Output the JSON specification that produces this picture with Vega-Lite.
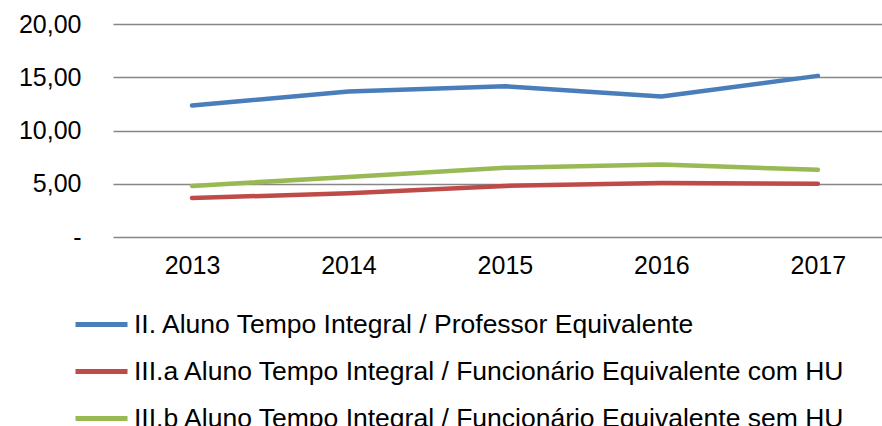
{
  "$schema": "https://vega.github.io/schema/vega-lite/v6.json",
  "autosize": "none",
  "padding": {"left": 113, "top": 24, "right": 0, "bottom": 189},
  "width": 769,
  "height": 213,
  "background": "white",
  "config": {
    "view": {"stroke": null},
    "font": "Liberation Sans",
    "axis": {"labelFont": "Liberation Sans", "labelColor": "#000000"},
    "legend": {"labelFont": "Liberation Sans"}
  },
  "data": {
    "values": [
      {"ano": 2013, "serie": "II. Aluno Tempo Integral / Professor Equivalente", "valor": 12.34},
      {"ano": 2014, "serie": "II. Aluno Tempo Integral / Professor Equivalente", "valor": 13.66},
      {"ano": 2015, "serie": "II. Aluno Tempo Integral / Professor Equivalente", "valor": 14.16},
      {"ano": 2016, "serie": "II. Aluno Tempo Integral / Professor Equivalente", "valor": 13.19},
      {"ano": 2017, "serie": "II. Aluno Tempo Integral / Professor Equivalente", "valor": 15.13},
      {"ano": 2013, "serie": "III.a Aluno Tempo Integral / Funcionário Equivalente com HU", "valor": 3.66},
      {"ano": 2014, "serie": "III.a Aluno Tempo Integral / Funcionário Equivalente com HU", "valor": 4.1},
      {"ano": 2015, "serie": "III.a Aluno Tempo Integral / Funcionário Equivalente com HU", "valor": 4.8},
      {"ano": 2016, "serie": "III.a Aluno Tempo Integral / Funcionário Equivalente com HU", "valor": 5.06},
      {"ano": 2017, "serie": "III.a Aluno Tempo Integral / Funcionário Equivalente com HU", "valor": 5.0},
      {"ano": 2013, "serie": "III.b Aluno Tempo Integral / Funcionário Equivalente sem HU", "valor": 4.8},
      {"ano": 2014, "serie": "III.b Aluno Tempo Integral / Funcionário Equivalente sem HU", "valor": 5.63},
      {"ano": 2015, "serie": "III.b Aluno Tempo Integral / Funcionário Equivalente sem HU", "valor": 6.5},
      {"ano": 2016, "serie": "III.b Aluno Tempo Integral / Funcionário Equivalente sem HU", "valor": 6.81},
      {"ano": 2017, "serie": "III.b Aluno Tempo Integral / Funcionário Equivalente sem HU", "valor": 6.31}
    ]
  },
  "mark": {"type": "line", "strokeWidth": 4.5, "strokeCap": "round", "strokeJoin": "round"},
  "encoding": {
    "x": {
      "field": "ano",
      "type": "quantitative",
      "scale": {"domain": [2012.495, 2017.41], "nice": false, "zero": false},
      "axis": {
        "title": null,
        "values": [2013, 2014, 2015, 2016, 2017],
        "format": "d",
        "grid": false,
        "ticks": false,
        "domain": false,
        "labelFontSize": 25,
        "labelPadding": 16,
        "labelFlush": false
      }
    },
    "y": {
      "field": "valor",
      "type": "quantitative",
      "scale": {"domain": [0, 20], "nice": false},
      "axis": {
        "title": null,
        "values": [0, 5, 10, 15, 20],
        "labelExpr": "datum.value == 0 ? '-' : replace(format(datum.value, '.2f'), '.', ',')",
        "grid": true,
        "gridColor": "#868686",
        "gridWidth": 1.5,
        "gridOpacity": 1,
        "ticks": false,
        "domain": false,
        "labelFontSize": 25,
        "labelPadding": 32
      }
    },
    "color": {
      "field": "serie",
      "type": "nominal",
      "scale": {"range": ["#4a7ebb", "#be4b48", "#98b954"]},
      "legend": {
        "title": null,
        "orient": "none",
        "legendX": -40,
        "legendY": 272,
        "direction": "vertical",
        "symbolType": "stroke",
        "symbolSize": 2704,
        "symbolStrokeWidth": 5,
        "labelFontSize": 26.5,
        "labelColor": "#000000",
        "labelOffset": 4,
        "labelLimit": 900,
        "rowPadding": 5
      }
    }
  }
}
